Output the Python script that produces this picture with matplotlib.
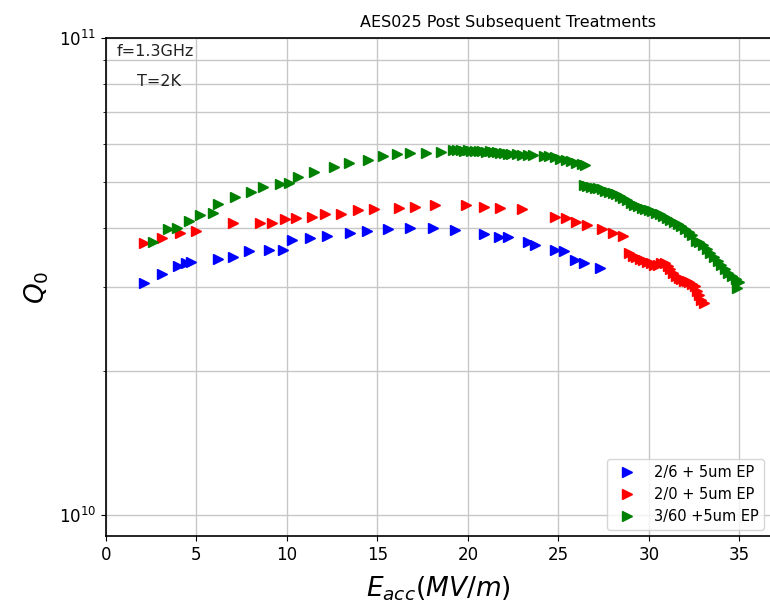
import matplotlib.pyplot as plt
import numpy as np

plt.rcParams.update(
    {
        "font.family": "DejaVu Sans",
        "xtick.labelsize": 12,
        "ytick.labelsize": 12,
    }
)

# Q0 values in units of 1e10
e_26 = [2.1, 3.1, 4.0, 4.4, 4.7, 6.2, 7.0, 7.9, 9.0, 9.8, 10.3, 11.3, 12.2, 13.5, 14.4,
        15.6, 16.8, 18.1, 19.3, 20.9, 21.7, 22.2, 23.3, 23.7, 24.8, 25.3, 25.9, 26.4, 27.3]
q_26 = [3.07, 3.20, 3.33, 3.38, 3.39, 3.44, 3.47, 3.58, 3.59, 3.59, 3.77, 3.81, 3.85, 3.90, 3.94,
        3.98, 4.00, 4.00, 3.96, 3.89, 3.83, 3.83, 3.73, 3.68, 3.59, 3.58, 3.42, 3.38, 3.30]

e_20 = [2.1, 3.1, 4.1, 5.0, 7.0, 8.5, 9.2, 9.9, 10.5, 11.4, 12.1, 13.0, 13.9, 14.8, 16.2,
        17.1, 18.2, 19.9, 20.9, 21.8, 23.0, 24.8, 25.4, 26.0, 26.6, 27.4, 28.0, 28.6,
        28.9, 29.1, 29.3, 29.5, 29.7, 29.9, 30.1, 30.3, 30.5, 30.7, 30.9, 31.05, 31.2,
        31.35, 31.5, 31.65, 31.8, 31.95, 32.1, 32.25, 32.4, 32.55, 32.65, 32.75, 32.9, 33.05]
q_20 = [3.72, 3.81, 3.90, 3.94, 4.09, 4.09, 4.09, 4.17, 4.19, 4.21, 4.28, 4.28, 4.36, 4.38, 4.40,
        4.42, 4.47, 4.47, 4.42, 4.40, 4.38, 4.21, 4.19, 4.11, 4.05, 3.98, 3.90, 3.85,
        3.54, 3.50, 3.47, 3.44, 3.42, 3.40, 3.37, 3.35, 3.35, 3.37, 3.38, 3.33, 3.28,
        3.22, 3.17, 3.14, 3.12, 3.10, 3.09, 3.08, 3.05, 3.02, 2.95, 2.89, 2.83, 2.78]

e_360 = [2.6, 3.45, 3.9, 4.6, 5.2, 5.9, 6.2, 7.15, 8.0, 8.7, 9.6, 10.1, 10.6, 11.5, 12.6,
         13.45, 14.5, 15.3, 16.1, 16.8, 17.7, 18.5,
         19.2, 19.4, 19.6, 19.8, 20.0, 20.2, 20.4, 20.6, 20.8, 21.0, 21.2, 21.4, 21.6, 21.8,
         22.0, 22.2, 22.4, 22.7, 23.0, 23.3, 23.6, 24.2, 24.5, 24.8, 25.1, 25.4, 25.7, 26.0,
         26.3, 26.5,
         26.4, 26.6, 26.8, 27.0, 27.2, 27.4, 27.6, 27.8, 28.0, 28.2, 28.4, 28.6, 28.8, 29.0,
         29.2, 29.4, 29.6, 29.8, 30.0, 30.2, 30.4, 30.6, 30.8, 31.0, 31.2, 31.4, 31.6, 31.8,
         32.0, 32.2, 32.4, 32.6, 32.8, 33.0, 33.2, 33.4, 33.6, 33.8, 34.0, 34.2, 34.4, 34.6,
         34.8, 35.0, 34.9]
q_360 = [3.73, 3.98, 4.00, 4.13, 4.25, 4.30, 4.49, 4.64, 4.75, 4.87, 4.94, 4.96, 5.11, 5.24, 5.37,
         5.47, 5.55, 5.66, 5.71, 5.74, 5.74, 5.77,
         5.82, 5.83, 5.82, 5.81, 5.82, 5.80, 5.81, 5.79, 5.80, 5.78, 5.79, 5.77, 5.76, 5.75,
         5.73, 5.72, 5.71, 5.70, 5.69, 5.68, 5.68, 5.67, 5.66, 5.62, 5.59, 5.56, 5.52, 5.48,
         5.44, 5.41,
         4.92, 4.90, 4.88, 4.86, 4.85, 4.82, 4.79, 4.76, 4.73, 4.70, 4.66, 4.62, 4.57, 4.52,
         4.47, 4.45, 4.41, 4.38, 4.37, 4.34, 4.30, 4.27, 4.23, 4.20, 4.16, 4.12, 4.08, 4.03,
         3.98, 3.93, 3.86, 3.76, 3.73, 3.68, 3.62, 3.55, 3.47, 3.41, 3.34, 3.28, 3.22, 3.17,
         3.12, 3.08, 2.99]

series = [
    ("2/6 + 5um EP", e_26, q_26, "b"),
    ("2/0 + 5um EP", e_20, q_20, "r"),
    ("3/60 +5um EP", e_360, q_360, "g"),
]

fig = plt.figure(figsize=(7.7, 6.06), dpi=100)
ax = fig.add_axes([0.1377, 0.1155, 0.8623, 0.8218])

for label, e, q, c in series:
    ax.plot(e, np.array(q) * 1e10, ">", color=c, markersize=7.5, linestyle="none", label=label)

ax.set_yscale("log")
ax.set_xlim(0, 36.7)
ax.set_ylim(9.04e9, 1e11)
ax.set_xticks(np.arange(0, 36, 5))
ax.grid(True, which="both", color="0.78", linewidth=1.0)
ax.spines["right"].set_visible(False)
for side in ("top", "left", "bottom"):
    ax.spines[side].set_linewidth(1.2)

ax.set_title("AES025 Post Subsequent Treatments", fontsize=11.5, x=0.605, pad=8)
ax.set_xlabel(r"$E_{acc}(MV/m)$", fontsize=19, labelpad=8)
ax.set_ylabel(r"$Q_0$", fontsize=19, labelpad=6)

ax.text(0.016, 0.972, "f=1.3GHz", transform=ax.transAxes, fontsize=11.5, va="center", color="#222222")
ax.text(0.047, 0.912, "T=2K", transform=ax.transAxes, fontsize=11.5, va="center", color="#222222")

ax.legend(loc="lower right", fontsize=10.5, borderaxespad=0.4)

fig.savefig("out.png", dpi=100)
